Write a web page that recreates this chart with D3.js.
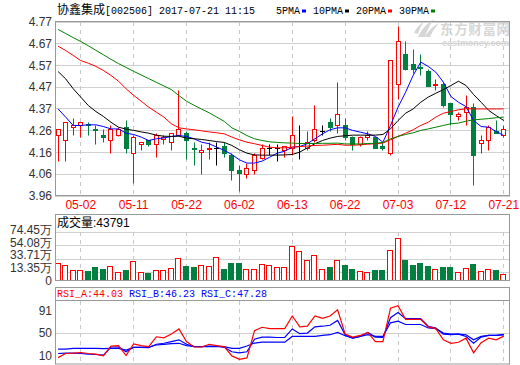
<!DOCTYPE html>
<html><head><meta charset="utf-8">
<script src="https://cdn.jsdelivr.net/npm/d3@7"></script>
<style>body{margin:0;background:#fff}svg{display:block}</style>
</head><body><svg id="c" width="520" height="365"></svg>
<script>
const dates = ["04-26","04-27","04-28","05-02","05-03","05-04","05-05","05-08","05-09","05-10","05-11","05-12","05-15","05-16","05-17","05-18","05-19","05-22","05-23","05-24","05-25","05-26","05-31","06-01","06-02","06-05","06-06","06-07","06-08","06-09","06-12","06-13","06-14","06-15","06-16","06-19","06-20","06-21","06-22","06-23","06-26","06-27","06-28","06-29","06-30","07-03","07-04","07-05","07-06","07-07","07-10","07-11","07-12","07-13","07-14","07-17","07-18","07-19","07-20","07-21"];
const open  = [4.24,4.22,4.28,4.29,4.295,4.27,4.24,4.22,4.24,4.28,4.16,4.20,4.22,4.20,4.225,4.21,4.24,4.25,4.18,4.162,4.175,4.18,4.19,4.15,4.08,4.06,4.08,4.135,4.18,4.18,4.17,4.18,4.19,4.18,4.22,4.26,4.30,4.29,4.29,4.23,4.20,4.232,4.23,4.19,4.16,4.48,4.62,4.57,4.56,4.54,4.475,4.48,4.39,4.33,4.35,4.37,4.205,4.22,4.26,4.24];
const high  = [4.27,4.30,4.32,4.30,4.30,4.29,4.27,4.29,4.28,4.31,4.24,4.21,4.22,4.25,4.24,4.25,4.45,4.26,4.21,4.20,4.21,4.21,4.21,4.16,4.10,4.11,4.16,4.20,4.20,4.20,4.19,4.33,4.29,4.26,4.38,4.29,4.32,4.49,4.32,4.235,4.235,4.26,4.23,4.21,4.59,4.75,4.68,4.64,4.62,4.55,4.50,4.49,4.39,4.35,4.43,4.39,4.24,4.29,4.31,4.29];
const low   = [4.12,4.12,4.24,4.23,4.24,4.20,4.21,4.16,4.235,4.16,4.02,4.17,4.19,4.14,4.20,4.17,4.24,4.13,4.10,4.06,4.13,4.10,4.14,4.03,3.98,4.04,4.06,4.13,4.15,4.12,4.14,4.15,4.13,4.17,4.21,4.24,4.26,4.25,4.22,4.17,4.19,4.22,4.18,4.17,4.15,4.41,4.545,4.53,4.52,4.47,4.45,4.37,4.29,4.31,4.29,4.01,4.16,4.17,4.25,4.23];
const close = [4.27,4.30,4.29,4.30,4.29,4.265,4.23,4.27,4.27,4.18,4.23,4.21,4.20,4.24,4.23,4.25,4.27,4.22,4.175,4.17,4.18,4.18,4.16,4.08,4.065,4.09,4.15,4.18,4.18,4.18,4.19,4.24,4.19,4.21,4.27,4.26,4.28,4.34,4.23,4.20,4.23,4.24,4.18,4.18,4.59,4.68,4.55,4.55,4.555,4.47,4.48,4.38,4.34,4.34,4.37,4.15,4.22,4.28,4.25,4.27];
const ma5  = [4.363,4.325,4.286,4.286,4.289,4.289,4.281,4.270,4.270,4.250,4.244,4.232,4.216,4.224,4.228,4.235,4.239,4.235,4.224,4.208,4.201,4.185,4.170,4.151,4.126,4.111,4.111,4.120,4.138,4.157,4.166,4.185,4.188,4.201,4.224,4.247,4.266,4.275,4.275,4.263,4.255,4.247,4.235,4.208,4.286,4.371,4.441,4.519,4.581,4.561,4.534,4.488,4.421,4.394,4.374,4.309,4.281,4.278,4.258,4.239];
const ma10 = [4.537,4.503,4.457,4.418,4.379,4.351,4.328,4.301,4.278,4.269,4.263,4.256,4.250,4.241,4.236,4.235,4.236,4.227,4.224,4.221,4.216,4.211,4.207,4.193,4.173,4.157,4.149,4.148,4.148,4.148,4.149,4.151,4.162,4.182,4.201,4.216,4.227,4.235,4.238,4.241,4.241,4.241,4.241,4.244,4.270,4.309,4.343,4.363,4.394,4.418,4.436,4.453,4.472,4.492,4.472,4.430,4.394,4.356,4.332,4.309];
const ma20 = [4.655,4.635,4.612,4.588,4.576,4.561,4.542,4.519,4.492,4.457,4.426,4.399,4.371,4.348,4.325,4.294,4.275,4.270,4.266,4.261,4.256,4.252,4.247,4.232,4.219,4.208,4.201,4.193,4.185,4.182,4.182,4.185,4.188,4.190,4.193,4.194,4.196,4.198,4.194,4.194,4.196,4.199,4.201,4.204,4.219,4.235,4.250,4.266,4.286,4.301,4.325,4.343,4.351,4.359,4.364,4.363,4.363,4.363,4.363,4.363];
const ma30 = [4.733,4.714,4.695,4.677,4.657,4.636,4.615,4.594,4.574,4.556,4.538,4.521,4.504,4.487,4.470,4.453,4.425,4.399,4.380,4.362,4.345,4.325,4.305,4.275,4.258,4.239,4.224,4.216,4.210,4.207,4.205,4.204,4.202,4.202,4.202,4.203,4.203,4.204,4.200,4.200,4.200,4.202,4.203,4.207,4.224,4.235,4.244,4.252,4.263,4.270,4.278,4.286,4.294,4.297,4.306,4.312,4.315,4.318,4.322,4.325];
const volume = [27.3,24.2,16.8,16.8,15.3,21.4,18.3,22.4,13.7,16.8,30.0,13.7,12.2,16.8,16.8,19.8,35.1,22.9,21.4,23.9,22.9,36.6,18.3,27.5,27.5,18.3,18.3,25.7,24.1,21.0,21.0,53.4,45.7,31.8,39.5,18.0,20.0,31.8,24.1,16.9,14.9,13.3,15.4,15.4,47.2,65.7,30.8,23.1,26.2,21.5,18.0,20.0,20.0,13.3,19.5,24.6,14.9,18.0,15.4,10.3];
const rsiA = [5.3,12.7,13.3,14.5,12.7,11.5,8.4,26.2,26.8,9.0,29.9,26.8,25.0,42.8,40.9,47.7,56.9,34.2,24.4,24.4,29.3,26.8,25.0,8.4,2.3,4.7,53.8,59.9,57.5,57.5,57.5,80.2,60.6,61.8,80.2,75.9,80.2,91.2,47.7,42.2,45.2,50.7,34.2,34.2,94.3,98.6,74.1,74.1,74.1,60.6,57.5,37.2,31.1,33.0,40.3,13.9,32.3,40.3,37.2,44.03];
const rsiB = [12.7,13.3,13.3,12.7,11.5,10.9,9.6,24.4,24.4,15.8,23.8,23.8,23.1,29.3,31.1,34.2,37.3,29.3,25.0,25.0,26.2,26.2,23.8,15.8,13.9,15.8,38.5,42.2,42.2,41.5,41.5,56.9,48.3,49.5,60.6,61.8,63.6,72.2,46.5,40.3,43.4,50.7,42.2,41.5,77.1,86.3,75.3,75.3,75.3,61.8,58.7,47.7,46.5,47.7,43.4,31.1,42.2,45.2,45.2,46.23];
const rsiC = [20.7,20.7,21.9,21.9,21.9,21.9,21.3,21.9,21.9,18.8,23.8,23.8,24.4,28.0,29.3,30.5,31.1,26.8,25.6,25.0,25.0,25.0,25.0,21.9,21.9,26.2,31.5,33.0,33.0,33.0,33.0,43.4,43.4,43.4,43.4,45.2,46.5,50.7,44.6,40.3,43.4,46.5,43.4,43.4,67.9,71.0,64.9,64.9,64.9,58.7,57.5,49.5,47.7,47.7,46.5,37.3,43.4,45.2,45.2,47.28];
const priceTicks = [3.96,4.06125,4.1625,4.26375,4.365,4.46625,4.5675,4.66875,4.77];
const priceTickLabels = ["3.96","4.06","4.16","4.26","4.37","4.47","4.57","4.67","4.77"];
const volTicks = [0,13.35,33.71,54.08,74.45];
const volTickLabels = ["0","13.35万","33.71万","54.08万","74.45万"];
const rsiTicks = [10,50,91];
const dateTicks = ["05-02","05-11","05-22","06-02","06-13","06-22","07-03","07-12","07-21"];
const maNames = ["5PMA","10PMA","20PMA","30PMA"];
const title = ["协鑫集成","[002506] 2017-07-21 11:15"];
const volTitle = ["成交量",":43791"];
const rsiNames = ["RSI_A","RSI_B","RSI_C"];

const RED="#ff0000", GREEN="#008040", BLUE="#0000ff", GRID="#d0d0d0", FRAME="#999";
const maColors=[BLUE,"#000",RED,"#008000"];
const svg=d3.select("#c");
const L=55, R=510;
const x=d3.scalePoint().domain(dates).range([57.6,503.3]);
const y=d3.scaleLinear().domain([3.96,4.77]).range([195.5,21.5]);
const yv=d3.scaleLinear().domain([0,74.45]).range([280.5,232]);
const yr=d3.scaleLinear().domain([10,91]).range([355,310]);
const px=d=>Math.round(x(d));
const SANS="'Liberation Sans',Arial,sans-serif", MONO="'Liberation Mono','DejaVu Sans Mono',monospace", CJK="'Noto Sans CJK SC',sans-serif";

// ---- title
const t=svg.append("text").attr("x",57).attr("y",14).attr("fill","#000");
t.append("tspan").attr("font-family",CJK).attr("font-size",12).text(title[0]);
t.append("tspan").attr("font-family",MONO).attr("font-size",10).text(title[1]);
let cur=276;
maNames.forEach((n,k)=>{
  svg.append("text").attr("x",cur).attr("y",14).attr("font-family",MONO).attr("font-size",10).attr("fill","#000").text(n);
  const w=n.length*6;
  svg.append("rect").attr("x",cur+w+2).attr("y",9.5).attr("width",4).attr("height",3).attr("fill",maColors[k]);
  cur+=w+13;
});

// ---- watermark
const wm=svg.append("g").attr("fill","#d6d6d6");
wm.append("path").attr("d","M418,37 C421,30 426,24 434,19 C430,25 427,30 425,37 Z M425,37 C428,31 433,26 439,23 C435,28 432,32 430,37 Z M414,33 C416,28 420,24 424,22 C421,26 419,30 418,34 Z");
wm.append("text").attr("x",440).attr("y",33.5).attr("font-family",CJK).attr("font-weight","bold").attr("font-size",13.5).attr("textLength",70).text("东方财富网");
wm.append("text").attr("x",442).attr("y",46).attr("font-family",SANS).attr("font-weight","bold").attr("font-size",9).attr("textLength",67).text("eastmoney.com");

// ---- main grid
const g=svg.append("g");
g.selectAll(".hg").data(priceTicks).join("line").attr("x1",L).attr("x2",R)
 .attr("y1",d=>Math.round(y(d))+0.5).attr("y2",d=>Math.round(y(d))+0.5).attr("stroke",GRID);
g.append("g").selectAll("line").data(dateTicks).join("line")
 .attr("x1",d=>px(d)+0.5).attr("x2",d=>px(d)+0.5).attr("y1",22).attr("y2",195)
 .attr("stroke","#c8c8c8").attr("stroke-dasharray","4,4");
g.selectAll(".pl").data(priceTicks).join("text").attr("x",52).attr("y",d=>y(d)+4.5)
 .attr("text-anchor","end").attr("font-family",SANS).attr("font-size",12).attr("fill","#333")
 .text((d,i)=>priceTickLabels[i]);
g.selectAll(".dl").data(dateTicks).join("text").attr("x",d=>x(d)+0.5).attr("y",209)
 .attr("text-anchor","middle").attr("font-family",SANS).attr("font-size",12).attr("fill",RED).text(d=>d);

// ---- candles
const cg=svg.append("g");
dates.forEach((d,i)=>{
  const cx=px(d), o=open[i], c=close[i];
  const col=c>o?RED:(c<o?GREEN:"#000");
  const yh=Math.round(y(high[i]))+0.5, yl=Math.round(y(low[i]))+0.5;
  const yt=Math.round(y(Math.max(o,c)))+0.5, yb=Math.round(y(Math.min(o,c)))+0.5;
  if(c>o){
    if(yh<yt) cg.append("line").attr("x1",cx+0.5).attr("x2",cx+0.5).attr("y1",yh).attr("y2",yt).attr("stroke",col);
    if(yl>yb) cg.append("line").attr("x1",cx+0.5).attr("x2",cx+0.5).attr("y1",yb).attr("y2",yl).attr("stroke",col);
    cg.append("rect").attr("x",cx-1.5).attr("y",yt).attr("width",4).attr("height",Math.max(1,yb-yt)).attr("fill","#fff").attr("stroke",col);
  } else if(c<o){
    cg.append("line").attr("x1",cx+0.5).attr("x2",cx+0.5).attr("y1",yh).attr("y2",yl).attr("stroke",col);
    cg.append("rect").attr("x",cx-2).attr("y",yt-0.5).attr("width",5).attr("height",Math.max(1,yb-yt+1)).attr("fill",col);
  } else {
    cg.append("line").attr("x1",cx+0.5).attr("x2",cx+0.5).attr("y1",yh).attr("y2",yl).attr("stroke",col);
    cg.append("line").attr("x1",cx-2).attr("x2",cx+3).attr("y1",yt).attr("y2",yt).attr("stroke",col);
  }
});
// ---- MAs
const line=d3.line().x((v,i)=>x(dates[i])+0.5).y(v=>y(v));
[ma5,ma10,ma20,ma30].forEach((arr,k)=>{
  svg.append("path").attr("d",line(arr)).attr("fill","none").attr("stroke",maColors[k]).attr("stroke-width",1);
});
svg.append("rect").attr("x",L+0.5).attr("y",21.5).attr("width",R-L-1).attr("height",174).attr("fill","none").attr("stroke",FRAME);

// ---- volume panel
const vg=svg.append("g");
vg.selectAll("line.h").data(volTicks.slice(1)).join("line").attr("x1",L).attr("x2",R)
 .attr("y1",d=>Math.round(yv(d))+0.5).attr("y2",d=>Math.round(yv(d))+0.5).attr("stroke",GRID);
vg.append("g").selectAll("line").data(dateTicks).join("line")
 .attr("x1",d=>px(d)+0.5).attr("x2",d=>px(d)+0.5).attr("y1",232).attr("y2",280)
 .attr("stroke","#c8c8c8").attr("stroke-dasharray","4,4");
// labels: keep at least 12.5px apart (going upward from the "0" label)
const volLabelY=[]; volTicks.forEach((d,i)=>{ let yy=yv(d)+4.5; if(i>0) yy=Math.min(yy, volLabelY[i-1]-12.8); volLabelY.push(yy); });
vg.selectAll("text.v").data(volTicks).join("text").attr("x",52).attr("y",(d,i)=>volLabelY[i])
 .attr("text-anchor","end").attr("font-family",SANS).attr("font-size",12).attr("fill","#333")
 .text((d,i)=>volTickLabels[i]);
dates.forEach((d,i)=>{
  const cx=px(d), up=close[i]>=open[i], top=Math.round(yv(volume[i]))+0.5;
  if(up) vg.append("rect").attr("x",cx-2.5).attr("y",top).attr("width",5).attr("height",280.5-top).attr("fill","#fff").attr("stroke",RED);
  else vg.append("rect").attr("x",cx-3).attr("y",top-0.5).attr("width",6).attr("height",281-top).attr("fill",GREEN);
});
const vt=vg.append("text").attr("x",57).attr("y",227).attr("fill","#000");
vt.append("tspan").attr("font-family",CJK).attr("font-size",12).text(volTitle[0]);
vt.append("tspan").attr("font-family",SANS).attr("font-size",12).text(volTitle[1]);
vg.append("rect").attr("x",L+0.5).attr("y",214.5).attr("width",R-L-1).attr("height",66).attr("fill","none").attr("stroke",FRAME);

// ---- RSI panel
const rg=svg.append("g");
rg.append("line").attr("x1",L).attr("x2",R).attr("y1",Math.round(yr(50))+0.5).attr("y2",Math.round(yr(50))+0.5).attr("stroke",GRID);
rg.append("g").selectAll("line").data(dateTicks).join("line")
 .attr("x1",d=>px(d)+0.5).attr("x2",d=>px(d)+0.5).attr("y1",301).attr("y2",364)
 .attr("stroke","#c8c8c8").attr("stroke-dasharray","4,4");
rg.selectAll("text.r").data(rsiTicks).join("text").attr("x",52).attr("y",d=>yr(d)+4.5)
 .attr("text-anchor","end").attr("font-family",SANS).attr("font-size",12).attr("fill","#333").text(d=>d);
const rline=d3.line().x((v,i)=>x(dates[i])+0.5).y(v=>yr(v));
[[rsiC,BLUE],[rsiB,BLUE],[rsiA,RED]].forEach(([arr,col])=>{
  rg.append("path").attr("d",rline(arr)).attr("fill","none").attr("stroke",col).attr("stroke-width",1.2);
});
const rt=rg.append("text").attr("x",57).attr("y",297).attr("font-family",MONO).attr("font-size",10).attr("xml:space","preserve");
const lastVals=[rsiA[59],rsiB[59],rsiC[59]];
rsiNames.forEach((n,k)=>{
  rt.append("tspan").attr("fill",k===0?RED:BLUE).text((k?" ":"")+n+":"+lastVals[k].toFixed(2));
});
rg.append("line").attr("x1",L).attr("x2",R).attr("y1",300.5).attr("y2",300.5).attr("stroke",FRAME);
rg.append("rect").attr("x",L+0.5).attr("y",287.5).attr("width",R-L-1).attr("height",76.5).attr("fill","none").attr("stroke",FRAME);
</script></body></html>
